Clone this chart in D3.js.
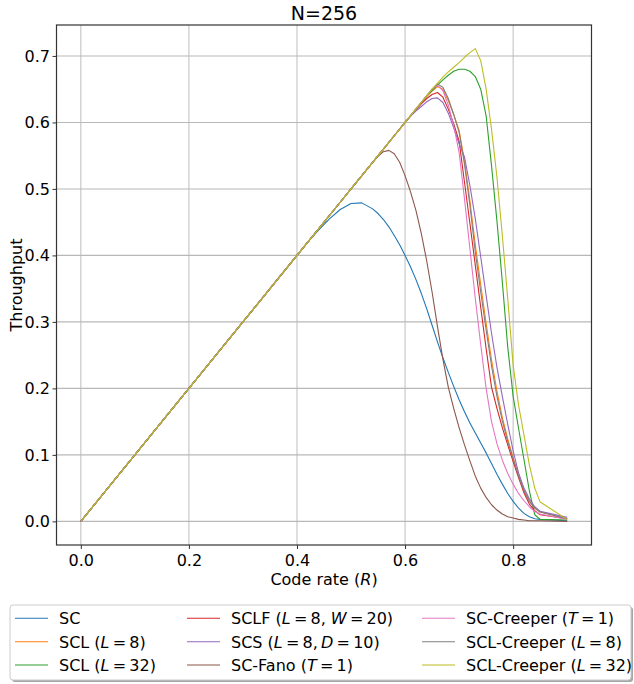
<!DOCTYPE html>
<html><head><meta charset="utf-8">
<script src="https://cdn.jsdelivr.net/npm/d3@7"></script>
<style>
body{margin:0;background:#fff}
svg{display:block}
text{font-family:"DejaVu Sans",sans-serif;fill:#000}
</style>
</head><body>
<svg id="chart" width="634" height="684"></svg>
<script>
// ---- data ----
const rates = [0, 0.1, 0.2, 0.3, 0.40, 0.42, 0.44, 0.46, 0.48, 0.50, 0.52, 0.54,
  0.55, 0.56, 0.57, 0.58, 0.59, 0.60, 0.61, 0.62, 0.63, 0.64, 0.65, 0.66, 0.67, 0.68, 0.69,
  0.70, 0.71, 0.72, 0.73, 0.74, 0.75, 0.76, 0.77, 0.78, 0.79, 0.80, 0.81, 0.82, 0.83, 0.84, 0.85, 0.90];

const sc = [0, 0.1, 0.2, 0.3, 0.40, 0.420, 0.438, 0.455, 0.469, 0.478, 0.479, 0.470,
  0.463, 0.454, 0.443, 0.430, 0.416, 0.400, 0.383, 0.364, 0.343, 0.320, 0.295, 0.270, 0.246, 0.224, 0.203,
  0.183, 0.165, 0.148, 0.133, 0.118, 0.103, 0.087, 0.071, 0.056, 0.042, 0.030, 0.020, 0.012, 0.007, 0.004, 0.003, 0.001];

const scl8 = [0, 0.1, 0.2, 0.3, 0.40, 0.42, 0.44, 0.46, 0.48, 0.50, 0.52, 0.54,
  0.55, 0.56, 0.57, 0.58, 0.59, 0.60, 0.61, 0.62, 0.630, 0.639, 0.647, 0.654, 0.650, 0.633, 0.612,
  0.588, 0.542, 0.482, 0.416, 0.356, 0.298, 0.243, 0.196, 0.156, 0.124, 0.096, 0.069, 0.047, 0.031, 0.020, 0.014, 0.004];

const scl32 = [0, 0.1, 0.2, 0.3, 0.40, 0.42, 0.44, 0.46, 0.48, 0.50, 0.52, 0.54,
  0.55, 0.56, 0.57, 0.58, 0.59, 0.60, 0.61, 0.62, 0.63, 0.64, 0.648, 0.656, 0.664, 0.671, 0.677,
  0.680, 0.680, 0.677, 0.669, 0.650, 0.610, 0.535, 0.452, 0.360, 0.262, 0.188, 0.140, 0.093, 0.046, 0.010, 0.003, 0.002];

const sclf = [0, 0.1, 0.2, 0.3, 0.40, 0.42, 0.44, 0.46, 0.48, 0.50, 0.52, 0.54,
  0.55, 0.56, 0.57, 0.58, 0.59, 0.60, 0.61, 0.619, 0.628, 0.636, 0.642, 0.645, 0.638, 0.620, 0.598,
  0.572, 0.510, 0.448, 0.385, 0.322, 0.260, 0.202, 0.170, 0.141, 0.115, 0.090, 0.066, 0.043, 0.026, 0.016, 0.010, 0.004];

const scs = [0, 0.1, 0.2, 0.3, 0.40, 0.42, 0.44, 0.46, 0.48, 0.50, 0.52, 0.54,
  0.55, 0.56, 0.57, 0.58, 0.59, 0.600, 0.609, 0.617, 0.624, 0.631, 0.636, 0.637, 0.630, 0.614, 0.592,
  0.568, 0.548, 0.505, 0.455, 0.398, 0.340, 0.283, 0.232, 0.188, 0.146, 0.106, 0.073, 0.050, 0.034, 0.022, 0.015, 0.006];

const scFano = [0, 0.1, 0.2, 0.3, 0.40, 0.42, 0.44, 0.46, 0.48, 0.50, 0.52, 0.54,
  0.549, 0.556, 0.558, 0.553, 0.540, 0.520, 0.496, 0.468, 0.433, 0.392, 0.345, 0.293, 0.244, 0.202, 0.170,
  0.141, 0.115, 0.091, 0.068, 0.050, 0.036, 0.025, 0.017, 0.011, 0.007, 0.005, 0.003, 0.002, 0.001, 0.001, 0.001, 0.000];

const scCreeper = [0, 0.1, 0.2, 0.3, 0.40, 0.42, 0.44, 0.46, 0.48, 0.50, 0.52, 0.54,
  0.55, 0.56, 0.57, 0.58, 0.59, 0.60, 0.61, 0.62, 0.63, 0.64, 0.650, 0.656, 0.648, 0.626, 0.595,
  0.555, 0.485, 0.410, 0.335, 0.266, 0.200, 0.150, 0.117, 0.092, 0.072, 0.056, 0.042, 0.031, 0.022, 0.015, 0.011, 0.003];

const sclCreeper8 = [0, 0.1, 0.2, 0.3, 0.40, 0.42, 0.44, 0.46, 0.48, 0.50, 0.52, 0.54,
  0.55, 0.56, 0.57, 0.58, 0.59, 0.60, 0.61, 0.62, 0.63, 0.64, 0.650, 0.658, 0.653, 0.636, 0.612,
  0.585, 0.537, 0.475, 0.405, 0.345, 0.288, 0.234, 0.188, 0.151, 0.120, 0.094, 0.068, 0.046, 0.030, 0.020, 0.014, 0.004];

const sclCreeper32 = [0, 0.1, 0.2, 0.3, 0.40, 0.42, 0.44, 0.46, 0.48, 0.50, 0.52, 0.54,
  0.55, 0.56, 0.57, 0.58, 0.59, 0.60, 0.61, 0.62, 0.63, 0.64, 0.65, 0.659, 0.668, 0.676, 0.683,
  0.690, 0.698, 0.705, 0.711, 0.693, 0.650, 0.590, 0.518, 0.430, 0.335, 0.235, 0.175, 0.130, 0.085, 0.050, 0.029, 0.003];

const seriesLabels = [
  "SC", "SCL ($L$ = 8)", "SCL ($L$ = 32)",
  "SCLF ($L$ = 8, $W$ = 20)", "SCS ($L$ = 8,$D$ = 10)", "SC-Fano ($T$ = 1)",
  "SC-Creeper ($T$ = 1)", "SCL-Creeper ($L$ = 8)", "SCL-Creeper ($L$ = 32)"
];
const seriesValues = [sc, scl8, scl32, sclf, scs, scFano, scCreeper, sclCreeper8, sclCreeper32];
const seriesColors = ["#1f77b4", "#ff7f0e", "#2ca02c", "#d62728", "#9467bd", "#8c564b", "#e377c2", "#7f7f7f", "#bcbd22"];

const xTicks = [0.0, 0.2, 0.4, 0.6, 0.8];
const yTicks = [0.0, 0.1, 0.2, 0.3, 0.4, 0.5, 0.6, 0.7];
const titleText = "N=256";

// ---- layout ----
const L = 56.5, R = 591.5, T = 25, B = 545;
const svg = d3.select("#chart");

const x = d3.scaleLinear().domain([-0.045, 0.945]).range([L, R]);
const ymax = d3.max(seriesValues.flat());
const yPad = ymax * 0.05;
const y = d3.scaleLinear().domain([-yPad, ymax + yPad]).range([B, T]);

// grid
const grid = svg.append("g");
grid.selectAll("line.gx").data(xTicks).join("line")
  .attr("x1", d => x(d)).attr("x2", d => x(d)).attr("y1", T).attr("y2", B)
  .attr("stroke", "#c4c4c4").attr("stroke-width", 1.1);
grid.selectAll("line.gy").data(yTicks).join("line")
  .attr("y1", d => y(d)).attr("y2", d => y(d)).attr("x1", L).attr("x2", R)
  .attr("stroke", "#b8b8b8").attr("stroke-width", 1.1);

// clip
svg.append("clipPath").attr("id", "clip").append("rect")
  .attr("x", L).attr("y", T).attr("width", R - L).attr("height", B - T);

const line = d3.line().x(d => x(d[0])).y(d => y(d[1]));
const plot = svg.append("g").attr("clip-path", "url(#clip)");
seriesValues.forEach((vals, i) => {
  plot.append("path")
    .datum(rates.map((r, j) => [r, vals[j]]))
    .attr("d", line)
    .attr("fill", "none")
    .attr("stroke", seriesColors[i])
    .attr("stroke-width", 1.1)
    .attr("stroke-linejoin", "round");
});

// axes
const xAxis = svg.append("g").attr("transform", `translate(0,${B})`)
  .call(d3.axisBottom(x).tickValues(xTicks).tickFormat(d3.format(".1f")).tickSize(4).tickSizeOuter(0).tickPadding(5.5));
const yAxis = svg.append("g").attr("transform", `translate(${L},0)`)
  .call(d3.axisLeft(y).tickValues(yTicks).tickFormat(d3.format(".1f")).tickSize(4).tickSizeOuter(0).tickPadding(2.5));
[xAxis, yAxis].forEach(a => {
  a.select(".domain").remove();
  a.selectAll(".tick line").attr("stroke", "#333").attr("stroke-width", 1);
  a.selectAll(".tick text").attr("font-size", 16).attr("font-family", "DejaVu Sans").attr("fill", "#000");
});

// frame
svg.append("rect").attr("x", L).attr("y", T).attr("width", R - L).attr("height", B - T)
  .attr("fill", "none").attr("stroke", "#333").attr("stroke-width", 1.2);

// title & labels
svg.append("text").attr("x", (L + R) / 2).attr("y", 20).attr("text-anchor", "middle")
  .attr("font-size", 19).text(titleText);

const xl = svg.append("text").attr("x", (L + R) / 2).attr("y", 585).attr("text-anchor", "middle").attr("font-size", 16);
xl.append("tspan").text("Code rate (");
xl.append("tspan").attr("font-style", "italic").text("R");
xl.append("tspan").text(")");

svg.append("text").attr("transform", `translate(22,${(T + B) / 2}) rotate(-90)`)
  .attr("text-anchor", "middle").attr("font-size", 16).text("Throughput");

// legend
const lg = svg.append("g");
const LX0 = 10, LY0 = 605, LW = 621, LH = 75;
lg.append("rect").attr("x", LX0 + 2).attr("y", LY0 + 2).attr("width", LW).attr("height", LH)
  .attr("rx", 3).attr("fill", "#000").attr("opacity", 0.35);
lg.append("rect").attr("x", LX0).attr("y", LY0).attr("width", LW).attr("height", LH)
  .attr("rx", 3).attr("fill", "#fff").attr("stroke", "#cccccc").attr("stroke-width", 1);

const colX = [15, 187, 422];
const rowY = [618.3, 641.7, 665];
seriesLabels.forEach((lab, i) => {
  const c = Math.floor(i / 3), r = i % 3;
  const hx = colX[c], hy = rowY[r];
  lg.append("line").attr("x1", hx).attr("x2", hx + 33).attr("y1", hy).attr("y2", hy)
    .attr("stroke", seriesColors[i]).attr("stroke-width", 1.1);
  const t = lg.append("text").attr("x", hx + 44).attr("y", hy + 6).attr("font-size", 16);
  lab.replace(/ = /g, "\u2009=\u2009").replace(",$", ",\u2009$").split("$").forEach((seg, k) => {
    if (!seg) return;
    const ts = t.append("tspan").text(seg);
    if (k % 2 === 1) ts.attr("font-style", "italic");
  });
});
</script>
</body></html>
